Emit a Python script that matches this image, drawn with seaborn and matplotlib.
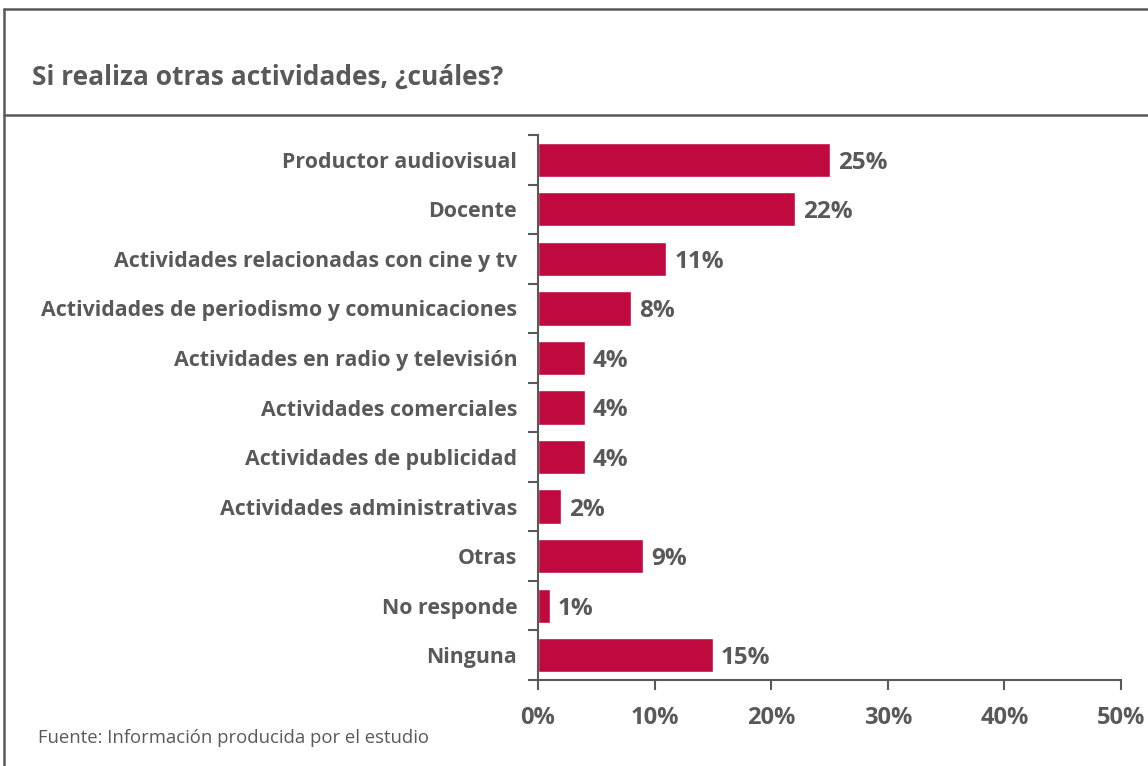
import matplotlib
matplotlib.use("Agg")
import matplotlib.pyplot as plt
import seaborn as sns
import pandas as pd
import numpy as np
from matplotlib.lines import Line2D
from matplotlib.ticker import FixedLocator

categories = [
    "Productor audiovisual",
    "Docente",
    "Actividades relacionadas con cine y tv",
    "Actividades de periodismo y comunicaciones",
    "Actividades en radio y televisión",
    "Actividades comerciales",
    "Actividades de publicidad",
    "Actividades administrativas",
    "Otras",
    "No responde",
    "Ninguna",
]
values = [25, 22, 11, 8, 4, 4, 4, 2, 9, 1, 15]
xtick_values = [0, 10, 20, 30, 40, 50]
xtick_labels = ["0%", "10%", "20%", "30%", "40%", "50%"]

title = "Si realiza otras actividades, ¿cuáles?"
source = "Fuente: Información producida por el estudio"

BAR = "#C0093F"
TXT = "#595959"
FONT = ["Open Sans", "DejaVu Sans"]

sns.set_style("white")
plt.rcParams["font.family"] = FONT

df = pd.DataFrame({"cat": categories, "val": values})

fig = plt.figure(figsize=(11.48, 7.66), dpi=100)
ax = fig.add_axes([538 / 1148, 1 - 680 / 766, (1121 - 538) / 1148, (680 - 135) / 766])

sns.barplot(data=df, x="val", y="cat", orient="h", color=BAR, width=0.69,
            saturation=1, ax=ax, order=categories)

ax.set_xlim(0, 50)
ax.set_ylim(len(categories) - 0.5, -0.5)
ax.set_xlabel("")
ax.set_ylabel("")

ax.set_xticks(xtick_values)
ax.set_xticklabels(xtick_labels, fontsize=17, fontweight="bold", color=TXT)
ax.tick_params(axis="x", which="major", direction="out", length=7, width=1.5,
               color=TXT, pad=12, bottom=True)

ax.set_yticks(range(len(categories)))
ax.set_yticklabels(categories, fontsize=15.4, fontweight="bold", color=TXT)
ax.tick_params(axis="y", which="major", length=0, pad=15)
ax.yaxis.set_minor_locator(FixedLocator(np.arange(-0.5, len(categories), 1.0)))
ax.tick_params(axis="y", which="minor", direction="out", length=7, width=1.5,
               color=TXT, left=True)

for side in ["top", "right"]:
    ax.spines[side].set_visible(False)
for side in ["left", "bottom"]:
    ax.spines[side].set_color(TXT)
    ax.spines[side].set_linewidth(1.5)

for i, v in enumerate(values):
    ax.text(v + 0.7, i, f"{v}%", va="center_baseline", ha="left", fontsize=17.5,
            fontweight="bold", color=TXT)

# Frame
W, H = 1148, 766
fig.add_artist(Line2D([4 / W, 4 / W], [0, 1 - 9 / H], color=TXT, lw=1.8))
fig.add_artist(Line2D([4 / W, 1], [1 - 9 / H, 1 - 9 / H], color=TXT, lw=1.8))
fig.add_artist(Line2D([4 / W, 1], [1 - 115 / H, 1 - 115 / H], color=TXT, lw=1.8))

fig.text(32 / W, 1 - 77 / H, title, fontsize=19, fontweight="bold", color=TXT,
         va="center", ha="left")
fig.text(38 / W, 1 - 738 / H, source, fontsize=13.3, color=TXT,
         va="center", ha="left")

fig.savefig("out.png", dpi=100)
